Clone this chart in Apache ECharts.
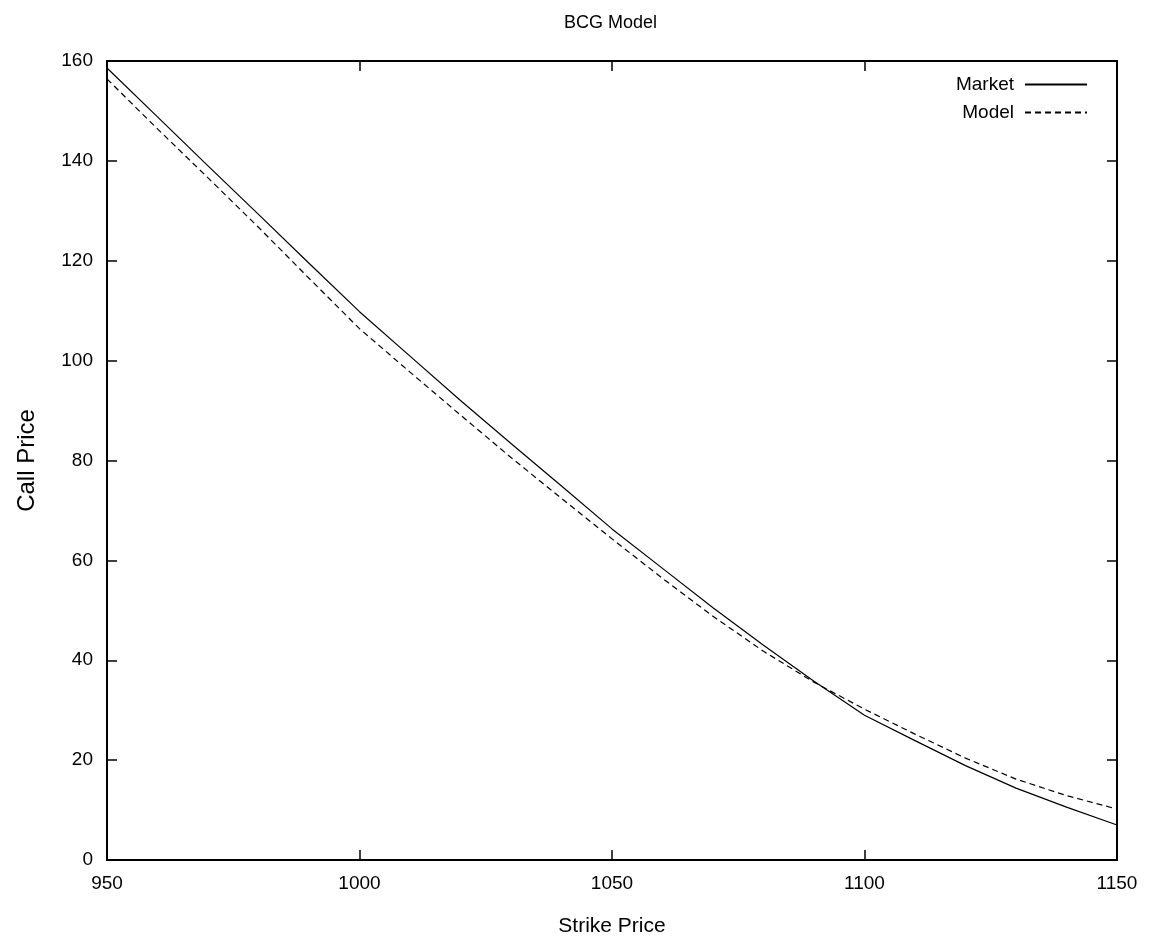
<!DOCTYPE html>
<html><head><meta charset="utf-8">
<script src="https://cdn.jsdelivr.net/npm/echarts@6/dist/echarts.min.js"></script>
<style>html,body{margin:0;padding:0;background:#fff}#c{width:1163px;height:944px}</style>
</head><body><div id="c"></div>
<script>
const strikes = [950,960,970,980,990,1000,1010,1020,1030,1040,1050,1060,1070,1080,1090,1100,1110,1120,1130,1140,1150];
const market = [158.6,148.8,139.0,129.3,119.5,109.8,100.9,92.0,83.4,74.9,66.3,58.4,50.5,43.0,35.8,29.0,23.9,18.9,14.4,10.6,7.0];
const model  = [156.4,146.4,136.6,126.7,116.5,106.4,97.7,89.1,80.6,72.4,64.3,56.4,48.8,41.8,35.6,30.2,25.2,20.4,16.2,12.9,10.2];
const xTicks = [950,1000,1050,1100,1150];
const yTicks = [0,20,40,60,80,100,120,140,160];

const FONT = 'Liberation Sans';
const chart = echarts.init(document.getElementById('c'), null, {renderer:'canvas'});
const axisLineStyle = {color:'#000', width:2};
const baseX = {type:'value', min:950, max:1150, interval:50,
  axisLine:{show:true, onZero:false, lineStyle:axisLineStyle},
  axisTick:{show:true, inside:true, length:10, lineStyle:{color:'#000', width:1.5}},
  splitLine:{show:false}};
const baseY = {type:'value', min:0, max:160, interval:20,
  axisLine:{show:true, onZero:false, lineStyle:axisLineStyle},
  axisTick:{show:true, inside:true, length:10, lineStyle:{color:'#000', width:1.5}},
  splitLine:{show:false}};
chart.setOption({
  animation:false,
  backgroundColor:'#fff',
  graphic:[{type:'text', left:612-48, top:14, style:{text:'BCG Model', fontFamily:FONT, fontSize:18, fill:'#000'}}],
  grid:{left:107, right:46, top:61, bottom:84},
  legend:{right:70, top:70, orient:'vertical', align:'right', itemWidth:62, itemHeight:14, itemGap:9,
    itemStyle:{color:'transparent', borderWidth:0},
    textStyle:{fontFamily:FONT, fontSize:19, color:'#000', padding:[0,6,0,0]},
    data:[{name:'Market'},{name:'Model'}]},
  xAxis:[
    Object.assign({}, baseX, {position:'bottom', name:'Strike Price', nameLocation:'middle', nameGap:56,
      nameTextStyle:{fontFamily:FONT, fontSize:21, color:'#000'},
      axisLabel:{show:true, margin:14, color:'#000', fontFamily:FONT, fontSize:19,
        formatter:v => xTicks.includes(v) ? String(v) : ''}}),
    Object.assign({}, baseX, {position:'top', axisLabel:{show:false}})
  ],
  yAxis:[
    Object.assign({}, baseY, {position:'left', name:'Call Price', nameLocation:'middle', nameGap:68,
      nameTextStyle:{fontFamily:FONT, fontSize:24, color:'#000'},
      axisLabel:{show:true, margin:14, color:'#000', fontFamily:FONT, fontSize:19,
        formatter:v => yTicks.includes(v) ? String(v) : ''}}),
    Object.assign({}, baseY, {position:'right', axisLabel:{show:false}})
  ],
  series:[
    {name:'Market', type:'line', xAxisIndex:0, yAxisIndex:0, showSymbol:false, symbol:'none',
      data:strikes.map((s,i)=>[s,market[i]]), lineStyle:{color:'#000', width:1.2, type:'solid'}, itemStyle:{color:'#000'}},
    {name:'Model', type:'line', xAxisIndex:0, yAxisIndex:0, showSymbol:false, symbol:'none',
      data:strikes.map((s,i)=>[s,model[i]]), lineStyle:{color:'#000', width:1.2, type:[6,4]}, itemStyle:{color:'#000'}}
  ]
});
</script></body></html>
